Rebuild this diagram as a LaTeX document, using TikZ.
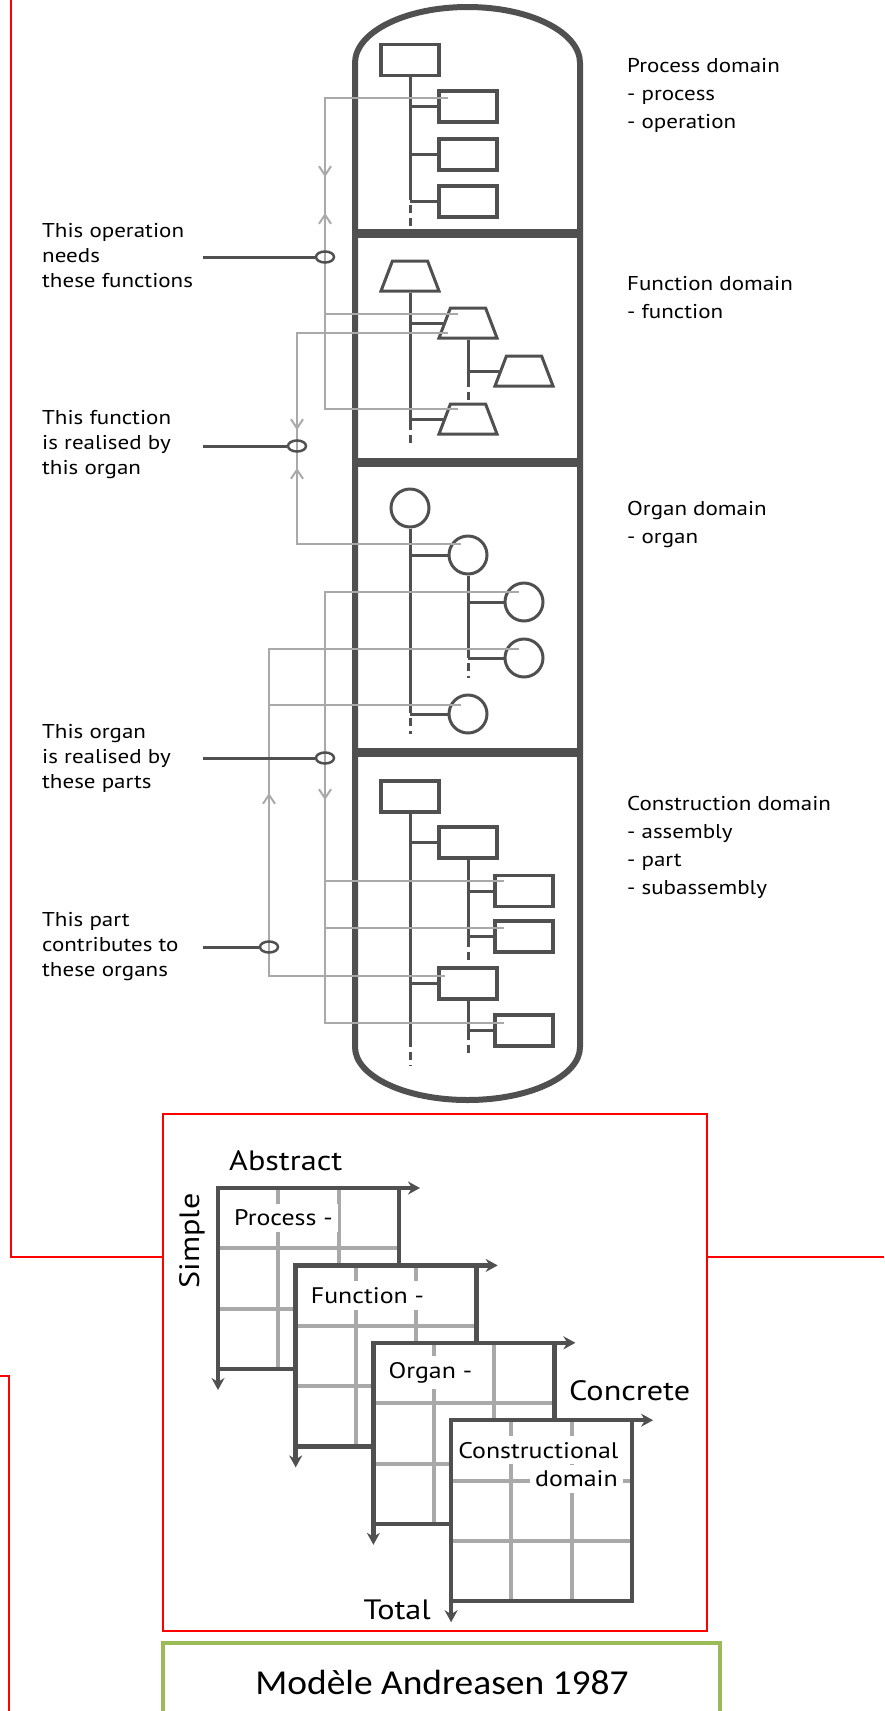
\documentclass[tikz,border=0pt]{standalone}
\usepackage{fontspec}
\setmainfont{PT Sans}[FakeStretch=1.15]
\newfontfamily\captionfont{Carlito}[FakeStretch=1.07]
\usetikzlibrary{shapes.geometric,arrows.meta,decorations.markings}

\definecolor{darkline}{HTML}{505050}
\definecolor{lightline}{HTML}{A9A9A9}
\definecolor{framered}{HTML}{FF0000}
\definecolor{framegreen}{HTML}{9BBB59}

\tikzset{
  wall/.style={draw=darkline, line width=6pt},
  divider/.style={draw=darkline, line width=9pt},
  partbox/.style={rectangle, draw=darkline, line width=3.5pt, minimum width=58pt, minimum height=31pt, inner sep=0pt},
  funbox/.style={trapezium, trapezium stretches=true, trapezium left angle=72, trapezium right angle=72, draw=darkline, line width=3pt, minimum width=58pt, minimum height=30pt, inner sep=2pt},
  organbox/.style={circle, draw=darkline, line width=3pt, minimum size=38pt, inner sep=0pt},
  trunk/.style={draw=darkline, line width=3pt},
  trunkend/.style={draw=darkline, line width=3pt, dash pattern=on 8pt off 5pt, dash phase=8pt},
  link/.style={draw=lightline, line width=2.7pt},
  tipdown/.style={postaction={decorate, decoration={markings, mark=at position #1 with {\arrow[lightline, line width=2pt]{Straight Barb[length=9pt, width=12pt]}}}}},
  tipup/.style={postaction={decorate, decoration={markings, mark=at position #1 with {\arrowreversed[lightline, line width=2pt]{Straight Barb[length=9pt, width=12pt]}}}}},
  ring/.style={ellipse, draw=darkline, line width=2.5pt, minimum width=18pt, minimum height=11pt, inner sep=0pt},
  callout/.style={draw=darkline, line width=3pt},
  sidenote/.style={anchor=west, align=left, inner sep=0pt, font=\fontsize{20}{25}\selectfont},
  domainnote/.style={anchor=west, align=left, inner sep=0pt, font=\fontsize{20}{28}\selectfont},
  gridline/.style={draw=lightline, line width=4pt},
  gridframe/.style={draw=darkline, line width=4.5pt, line cap=rect},
  gridtext/.style={anchor=west, fill=white, inner xsep=5pt, inner ysep=6pt, font=\fontsize{22.5}{27}\selectfont},
  axisnote/.style={font=\fontsize{28}{34}\selectfont, inner sep=0pt},
  redframe/.style={draw=framered, line width=2pt},
}

\begin{document}
\begin{tikzpicture}[x=1pt, y=-1pt]
\useasboundingbox (0,0) rectangle (884,1711);

% frames round the pictures
\draw[redframe] (11,0) -- (11,1257) -- (163,1257);
\draw[redframe] (707,1257) -- (884,1257);
\draw[redframe] (0,1376) -- (9,1376) -- (9,1711);
\draw[redframe] (163,1114) rectangle (707,1631);
\draw[draw=framegreen, line width=4pt] (163,1716) -- (163,1643) -- (720,1643) -- (720,1716);

% capsule with its four domains
\draw[wall] (355,63) -- (355,1047) arc[start angle=180, end angle=360, x radius=112.5pt, y radius=53pt] -- (580,63) arc[start angle=0, end angle=180, x radius=112.5pt, y radius=56pt] -- cycle;
\draw[divider] (355,233) -- (580,233);
\draw[divider] (355,462) -- (580,462);
\draw[divider] (355,752) -- (580,752);

% process domain
\node[partbox] (p0) at (410,60) {};
\node[partbox] (p1) at (468,106.5) {};
\node[partbox] (p2) at (468,154.5) {};
\node[partbox] (p3) at (468,201.5) {};
\coordinate (p0end) at (410,200);
\coordinate (p0tail) at (410,226);
\draw[trunk] (p0) -- (p0end);
\draw[trunkend] (p0end) -- (p0tail);
\draw[trunk] (p0end |- p1) -- (p1);
\draw[trunk] (p0end |- p2) -- (p2);
\draw[trunk] (p0end |- p3) -- (p3);

% function domain
\node[funbox] (f0) at (410,276) {};
\node[funbox] (f1) at (468,323) {};
\node[funbox] (f2) at (524,371) {};
\node[funbox] (f3) at (468,419) {};
\coordinate (f0end) at (410,430);
\coordinate (f0tail) at (410,443);
\coordinate (f1end) at (468,387);
\coordinate (f1tail) at (468,400);
\draw[trunk] (f0) -- (f0end);
\draw[trunkend] (f0end) -- (f0tail);
\draw[trunk] (f0end |- f1) -- (f1);
\draw[trunk] (f0end |- f3) -- (f3);
\draw[trunk] (f1) -- (f1end);
\draw[trunkend] (f1end) -- (f1tail);
\draw[trunk] (f1end |- f2) -- (f2);

% organ domain
\node[organbox] (o0) at (410,508) {};
\node[organbox] (o1) at (468,555) {};
\node[organbox] (o2) at (524,602) {};
\node[organbox] (o3) at (524,658) {};
\node[organbox] (o4) at (468,714) {};
\coordinate (o0end) at (410,713);
\coordinate (o0tail) at (410,734);
\coordinate (o1end) at (468,658);
\coordinate (o1tail) at (468,678);
\draw[trunk] (o0) -- (o0end);
\draw[trunkend] (o0end) -- (o0tail);
\draw[trunk] (o0end |- o1) -- (o1);
\draw[trunk] (o0end |- o4) -- (o4);
\draw[trunk] (o1) -- (o1end);
\draw[trunkend] (o1end) -- (o1tail);
\draw[trunk] (o1end |- o2) -- (o2);
\draw[trunk] (o1end |- o3) -- (o3);

% construction domain
\node[partbox] (c0) at (410,796.5) {};
\node[partbox] (c1) at (468,842.5) {};
\node[partbox] (c2) at (524,891) {};
\node[partbox] (c3) at (524,936.5) {};
\node[partbox] (c4) at (468,983.5) {};
\node[partbox] (c5) at (524,1030.5) {};
\coordinate (c0end) at (410,1047);
\coordinate (c0tail) at (410,1066);
\coordinate (c1end) at (468,947);
\coordinate (c1tail) at (468,963);
\coordinate (c4end) at (468,1040);
\coordinate (c4tail) at (468,1056);
\draw[trunk] (c0) -- (c0end);
\draw[trunkend] (c0end) -- (c0tail);
\draw[trunk] (c0end |- c1) -- (c1);
\draw[trunk] (c0end |- c4) -- (c4);
\draw[trunk] (c1) -- (c1end);
\draw[trunkend] (c1end) -- (c1tail);
\draw[trunk] (c1end |- c2) -- (c2);
\draw[trunk] (c1end |- c3) -- (c3);
\draw[trunk] (c4) -- (c4end);
\draw[trunkend] (c4end) -- (c4tail);
\draw[trunk] (c4end |- c5) -- (c5);

% links between the domains
\coordinate (s1a) at (448,98);
\coordinate (s1b) at (325,98);
\coordinate (s1c) at (325,409);
\coordinate (s1d) at (458,409);
\coordinate (s1e) at (325,314);
\coordinate (s1f) at (458,314);
\draw[link, tipdown=202pt, tipup=238pt] (s1a) -- (s1b) -- (s1c) -- (s1d);
\draw[link] (s1e) -- (s1f);

\coordinate (s2a) at (448,333);
\coordinate (s2b) at (297,333);
\coordinate (s2c) at (297,544);
\coordinate (s2d) at (461,544);
\draw[link, tipdown=248pt, tipup=286pt] (s2a) -- (s2b) -- (s2c) -- (s2d);

\coordinate (s3a) at (519,592);
\coordinate (s3b) at (325,592);
\coordinate (s3c) at (325,1023);
\coordinate (s3d) at (504,1023);
\coordinate (s3e) at (325,881);
\coordinate (s3f) at (504,881);
\coordinate (s3g) at (325,928);
\coordinate (s3h) at (504,928);
\draw[link, tipdown=402pt] (s3a) -- (s3b) -- (s3c) -- (s3d);
\draw[link] (s3e) -- (s3f);
\draw[link] (s3g) -- (s3h);

\coordinate (s4a) at (519,649);
\coordinate (s4b) at (269,649);
\coordinate (s4c) at (269,976);
\coordinate (s4d) at (445,976);
\coordinate (s4e) at (269,705);
\coordinate (s4f) at (461,705);
\draw[link, tipup=394pt] (s4a) -- (s4b) -- (s4c) -- (s4d);
\draw[link] (s4e) -- (s4f);

% callouts
\node[ring] (r1) at (325,257) {};
\node[ring] (r2) at (297,446) {};
\node[ring] (r3) at (325,758) {};
\node[ring] (r4) at (269,947) {};
\coordinate (r1in) at (203,257);
\coordinate (r2in) at (203,446);
\coordinate (r3in) at (203,758);
\coordinate (r4in) at (203,947);
\draw[callout] (r1in) -- (r1);
\draw[callout] (r2in) -- (r2);
\draw[callout] (r3in) -- (r3);
\draw[callout] (r4in) -- (r4);

\node[sidenote] (t1) at (42,256) {This operation\\needs\\these functions};
\node[sidenote] (t2) at (42,445) {This function\\is realised by\\this organ};
\node[sidenote] (t3) at (42,758) {This organ\\is realised by\\these parts};
\node[sidenote] (t4) at (42,947) {This part\\contributes to\\these organs};

\node[domainnote] (d1) at (627,95) {Process domain\\- process\\- operation};
\node[domainnote] (d2) at (627,297.5) {Function domain\\- function};
\node[domainnote] (d3) at (627,524.5) {Organ domain\\- organ};
\node[domainnote] (d4) at (627,847) {Construction domain\\- assembly\\- part\\- subassembly};

% stacked domain grids
\foreach \i/\dx/\txt in {0/11/Process -, 1/10/Function -, 2/10/Organ -, 3/2/Constructional} {
  \pgfmathsetmacro\gx{218+77.7*\i}
  \pgfmathsetmacro\gy{1188+77.4*\i}
  \fill[white] (\gx,\gy) rectangle ++(181,181);
  \draw[gridline] (\gx+60.3,\gy) -- ++(0,181);
  \draw[gridline] (\gx+120.7,\gy) -- ++(0,181);
  \draw[gridline] (\gx,\gy+60.3) -- ++(181,0);
  \draw[gridline] (\gx,\gy+120.7) -- ++(181,0);
  \draw[gridframe] (\gx,\gy+181) -- ++(181,0) -- ++(0,-181);
  \draw[gridframe, {Stealth[length=12pt, width=13pt]}-{Stealth[length=12pt, width=13pt]}] (\gx,\gy+202) -- (\gx,\gy) -- (\gx+202,\gy);
  \node[gridtext] (gt\i) at (\gx+\dx,\gy+30) {\txt};
}
\node[gridtext, anchor=east] (gt4) at (623,1479) {domain};

\node[axisnote, anchor=west] (abstract) at (229,1161) {Abstract};
\node[axisnote, rotate=90] (simple) at (192,1241) {Simple};
\node[axisnote, anchor=west] (concrete) at (569,1391) {Concrete};
\node[axisnote, anchor=east] (total) at (431,1610) {Total};

\node[font=\captionfont\fontsize{35}{40}\selectfont] (title) at (442,1682) {Modèle Andreasen 1987};
\end{tikzpicture}
\end{document}
